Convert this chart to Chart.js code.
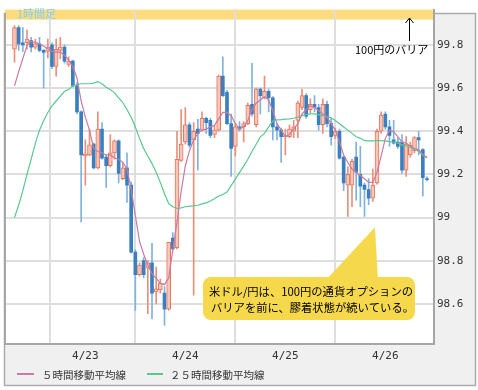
<!DOCTYPE html>
<html><head><meta charset="utf-8">
<script src="https://cdn.jsdelivr.net/npm/chart.js@4/dist/chart.umd.min.js"></script>
<style>html,body{margin:0;padding:0;background:#fff;}#wrap{width:478px;height:390px;position:relative;}</style>
</head><body><div id="wrap"><canvas id="c" width="478" height="390"></canvas></div>
<script>
// hourly candles (USD/JPY), index 0..99
const open  = [99.78,99.88,99.81,99.81,99.82,99.79,99.805,99.775,99.77,99.80,99.70,99.775,99.79,99.71,99.725,99.61,99.49,99.285,99.29,99.34,99.23,99.41,99.28,99.24,99.30,99.355,99.18,99.23,99.15,98.84,98.735,98.80,98.765,98.79,98.655,98.665,98.65,98.575,98.905,98.86,99.265,99.35,99.43,99.36,99.41,99.405,99.46,99.45,99.385,99.405,99.655,99.58,99.435,99.33,99.42,99.42,99.435,99.525,99.43,99.595,99.555,99.585,99.555,99.42,99.405,99.375,99.375,99.40,99.45,99.51,99.565,99.50,99.525,99.51,99.43,99.525,99.435,99.38,99.40,99.28,99.15,99.15,99.28,99.20,99.15,99.13,99.09,99.16,99.40,99.48,99.42,99.36,99.35,99.35,99.22,99.29,99.31,99.37,99.315,99.18];
const high  = [99.89,99.89,99.88,99.87,99.835,99.827,99.835,99.78,99.827,99.81,99.827,99.835,99.80,99.745,99.73,99.625,99.495,99.36,99.41,99.345,99.49,99.44,99.29,99.385,99.36,99.36,99.25,99.30,99.165,98.85,98.79,98.815,98.80,98.88,98.77,98.715,98.68,98.885,98.93,99.40,99.50,99.51,99.44,99.44,99.455,99.49,99.465,99.46,99.425,99.66,99.745,99.59,99.48,99.435,99.445,99.445,99.53,99.715,99.60,99.60,99.655,99.595,99.56,99.435,99.415,99.41,99.43,99.45,99.54,99.595,99.575,99.55,99.565,99.525,99.55,99.54,99.46,99.415,99.41,99.285,99.235,99.27,99.35,99.33,99.16,99.18,99.225,99.41,99.49,99.49,99.45,99.45,99.37,99.385,99.375,99.35,99.375,99.40,99.32,99.19];
const low   = [99.72,99.775,99.77,99.78,99.767,99.78,99.767,99.60,99.74,99.69,99.655,99.735,99.715,99.70,99.605,99.48,98.98,99.15,99.285,99.225,99.225,99.27,99.14,99.235,99.27,99.16,99.175,99.07,98.835,98.57,98.73,98.72,98.555,98.53,98.60,98.65,98.50,98.57,98.85,98.855,99.26,99.34,99.325,98.64,99.22,99.40,99.39,99.37,99.37,99.40,99.56,99.43,99.19,99.285,99.40,99.35,99.43,99.47,99.42,99.48,99.55,99.49,99.36,99.36,99.255,99.29,99.37,99.37,99.37,99.50,99.46,99.485,99.49,99.405,99.39,99.42,99.335,99.365,99.27,99.125,99.005,99.05,99.08,99.05,99.005,99.06,99.075,99.155,99.39,99.41,99.33,99.34,99.32,99.205,99.19,99.28,99.30,99.29,99.10,99.17];
const close = [99.88,99.805,99.80,99.827,99.79,99.805,99.775,99.765,99.79,99.70,99.78,99.79,99.725,99.725,99.61,99.49,99.29,99.295,99.337,99.23,99.41,99.275,99.24,99.30,99.355,99.205,99.23,99.15,98.84,98.735,98.78,98.735,98.79,98.65,98.67,98.695,98.575,98.885,98.855,99.27,99.34,99.43,99.335,99.40,99.39,99.46,99.44,99.38,99.405,99.655,99.565,99.435,99.32,99.42,99.41,99.435,99.52,99.48,99.595,99.565,99.585,99.555,99.42,99.405,99.375,99.38,99.41,99.42,99.53,99.565,99.47,99.525,99.51,99.43,99.525,99.435,99.375,99.40,99.275,99.16,99.20,99.26,99.21,99.145,99.13,99.09,99.15,99.40,99.475,99.42,99.38,99.345,99.33,99.22,99.34,99.335,99.37,99.36,99.185,99.175];
// moving averages as drawn
const ma5  = [99.61,99.676,99.737,99.797,99.815,99.812,99.805,99.794,99.782,99.77,99.767,99.767,99.752,99.73,99.70,99.646,99.54,99.465,99.405,99.32,99.306,99.30,99.29,99.29,99.276,99.27,99.255,99.225,99.133,99.01,98.89,98.83,98.78,98.74,98.718,98.695,98.69,98.72,98.85,98.98,99.12,99.24,99.31,99.36,99.39,99.405,99.41,99.42,99.427,99.457,99.487,99.487,99.472,99.435,99.41,99.42,99.45,99.50,99.53,99.545,99.56,99.545,99.495,99.435,99.405,99.375,99.385,99.41,99.435,99.48,99.50,99.518,99.51,99.495,99.48,99.465,99.435,99.405,99.35,99.29,99.255,99.225,99.21,99.195,99.18,99.163,99.163,99.21,99.285,99.367,99.405,99.397,99.375,99.35,99.345,99.33,99.32,99.315,99.29,99.276];
const ma25 = [99.0,99.057,99.125,99.2,99.27,99.344,99.405,99.45,99.487,99.518,99.54,99.563,99.585,99.593,99.61,99.616,99.62,99.62,99.62,99.623,99.63,99.62,99.604,99.593,99.578,99.555,99.533,99.50,99.465,99.42,99.367,99.32,99.284,99.25,99.21,99.163,99.11,99.065,99.05,99.042,99.045,99.05,99.053,99.054,99.057,99.063,99.068,99.077,99.087,99.10,99.107,99.118,99.148,99.178,99.208,99.238,99.27,99.306,99.34,99.374,99.39,99.42,99.447,99.453,99.454,99.456,99.457,99.46,99.465,99.472,99.477,99.48,99.48,99.477,99.472,99.468,99.462,99.45,99.435,99.42,99.405,99.39,99.374,99.367,99.356,99.355,99.355,99.356,99.356,99.355,99.352,99.35,99.345,99.337,99.332,99.326,99.317,99.306,99.29,99.28];
const dayTicks  = [0, 17, 41, 65, 89];
const dayLabels = ['', '4/23', '4/24', '4/25', '4/26'];
const yTicks      = [98.6, 98.8, 99, 99.2, 99.4, 99.6, 99.8];
const yTickLabels = ['98.6', '98.8', '99', '99.2', '99.4', '99.6', '99.8'];
const seriesNames = ['５時間移動平均線', '２５時間移動平均線'];

const C_MA5 = '#c97ba3', C_MA25 = '#58c98f';
const hours = open.map((_, i) => i);
const isUp = i => close[i] >= open[i];

const CJK = '"Noto Sans CJK JP", sans-serif';
const MONO = '"DejaVu Sans Mono", monospace';

const deco = {
  id: 'deco',
  beforeDraw(chart) {
    const ctx = chart.ctx, a = chart.chartArea;
    ctx.save();
    ctx.fillStyle = '#ffffff';
    ctx.fillRect(0, 0, chart.width, chart.height);
    ctx.fillStyle = '#f0f0f0';
    ctx.fillRect(4, 13, 472, 373);
    ctx.strokeStyle = '#ababab';
    ctx.lineWidth = 1.5;
    ctx.strokeRect(4.5, 13.5, 471, 372);
    ctx.fillStyle = '#ffffff';
    ctx.fillRect(a.left, a.top, a.right - a.left, a.bottom - a.top);
    // top band (100 yen barrier)
    ctx.fillStyle = '#fcdc7e';
    ctx.fillRect(a.left, a.top, a.right - a.left, 10);
    ctx.restore();
  },
  afterDraw(chart) {
    const ctx = chart.ctx, a = chart.chartArea;
    const xs = chart.scales.x, ys = chart.scales.y;
    ctx.save();
    // left border
    ctx.strokeStyle = '#a6a6a6'; ctx.lineWidth = 2;
    ctx.beginPath(); ctx.moveTo(a.left, 13); ctx.lineTo(a.left, a.bottom); ctx.stroke();
    // label 1時間足
    ctx.fillStyle = '#7fd0f2';
    ctx.font = '11px ' + CJK;
    ctx.textBaseline = 'middle'; ctx.textAlign = 'left';
    ctx.fillText('1時間足', 17, 14);
    // barrier arrow
    ctx.strokeStyle = '#000'; ctx.lineWidth = 1;
    ctx.beginPath(); ctx.moveTo(409.5, 41); ctx.lineTo(409.5, 18); ctx.stroke();
    ctx.beginPath(); ctx.moveTo(405.5, 23); ctx.lineTo(409.5, 18); ctx.lineTo(413.5, 23); ctx.stroke();
    ctx.fillStyle = '#000';
    ctx.font = '11px ' + CJK;
    ctx.fillText('100円のバリア', 355, 50);
    // callout
    const tipX = xs.getPixelForValue(86.5), tipY = ys.getPixelForValue(98.955);
    ctx.fillStyle = '#f6d84c';
    ctx.beginPath();
    ctx.moveTo(326, 280); ctx.lineTo(tipX, tipY); ctx.lineTo(378, 280); ctx.closePath(); ctx.fill();
    ctx.beginPath();
    ctx.roundRect(203, 277, 212, 43, 8);
    ctx.fill();
    ctx.fillStyle = '#000';
    ctx.font = '11.3px ' + CJK;
    ctx.fillText('米ドル/円は、100円の通貨オプションの', 209, 292);
    ctx.fillText('バリアを前に、膠着状態が続いている。', 211, 308);
    // legend
    ctx.font = '10.5px ' + CJK;
    ctx.fillStyle = '#333';
    ctx.lineWidth = 2;
    ctx.strokeStyle = C_MA5;
    ctx.beginPath(); ctx.moveTo(17, 374); ctx.lineTo(34, 374); ctx.stroke();
    ctx.fillText(seriesNames[0], 42, 375);
    ctx.strokeStyle = C_MA25;
    ctx.beginPath(); ctx.moveTo(147, 374); ctx.lineTo(163, 374); ctx.stroke();
    ctx.fillText(seriesNames[1], 170, 375);
    ctx.restore();
  }
};

const barCommon = { type: 'bar', grouped: false, borderSkipped: false };
new Chart(document.getElementById('c'), {
  type: 'bar',
  data: {
    datasets: [
      { type: 'line', label: seriesNames[0], data: hours.map(i => ({x: i, y: ma5[i]})),
        borderColor: C_MA5, borderWidth: 1.2, pointRadius: 0, tension: 0, order: 0 },
      { type: 'line', label: seriesNames[1], data: hours.map(i => ({x: i, y: ma25[i]})),
        borderColor: C_MA25, borderWidth: 1.2, pointRadius: 0, tension: 0, order: 0 },
      { ...barCommon, label: 'up', data: hours.map(i => ({x: i, y: isUp(i) ? [open[i], close[i]] : null})),
        backgroundColor: '#f7c6b8', borderColor: '#e2785f', borderWidth: 1, barThickness: 4, minBarLength: 1, order: 1 },
      { ...barCommon, label: 'down', data: hours.map(i => ({x: i, y: isUp(i) ? null : [open[i], close[i]]})),
        backgroundColor: '#3a7fc1', borderWidth: 0, barThickness: 3, minBarLength: 1, order: 1 },
      { ...barCommon, label: 'upWick', data: hours.map(i => ({x: i, y: isUp(i) ? [low[i], high[i]] : null})),
        backgroundColor: '#e9907b', borderWidth: 0, barThickness: 1, order: 2 },
      { ...barCommon, label: 'downWick', data: hours.map(i => ({x: i, y: isUp(i) ? null : [low[i], high[i]]})),
        backgroundColor: '#80b3dc', borderWidth: 0, barThickness: 1, order: 2 }
    ]
  },
  options: {
    responsive: false, animation: false,
    layout: { padding: { left: 5, top: 3, right: 0, bottom: 22 } },
    plugins: { legend: { display: false }, tooltip: { enabled: false } },
    scales: {
      x: {
        type: 'linear', min: -2.28, max: 100.68, offset: false,
        grid: { color: '#dedede', lineWidth: 2, drawTicks: false },
        border: { display: true, color: '#a6a6a6', width: 2 },
        ticks: { padding: 6, color: '#333', font: { family: MONO, size: 11 }, maxRotation: 0, autoSkip: false,
          callback: (v, idx) => dayLabels[idx] },
        afterBuildTicks: s => { s.ticks = dayTicks.map(v => ({ value: v })); },
        afterFit: s => { s.height = 24; }
      },
      y: {
        position: 'right', min: 98.414, max: 99.9636,
        grid: { color: '#dedede', lineWidth: 2, drawTicks: false },
        border: { display: true, color: '#a6a6a6', width: 2 },
        ticks: { padding: 3, color: '#333', font: { family: MONO, size: 11 },
          callback: (v, idx) => yTickLabels[idx] },
        afterBuildTicks: s => { s.ticks = yTicks.map(v => ({ value: v })); },
        afterFit: s => { s.width = 44; }
      }
    }
  },
  plugins: [deco]
});
</script></body></html>
